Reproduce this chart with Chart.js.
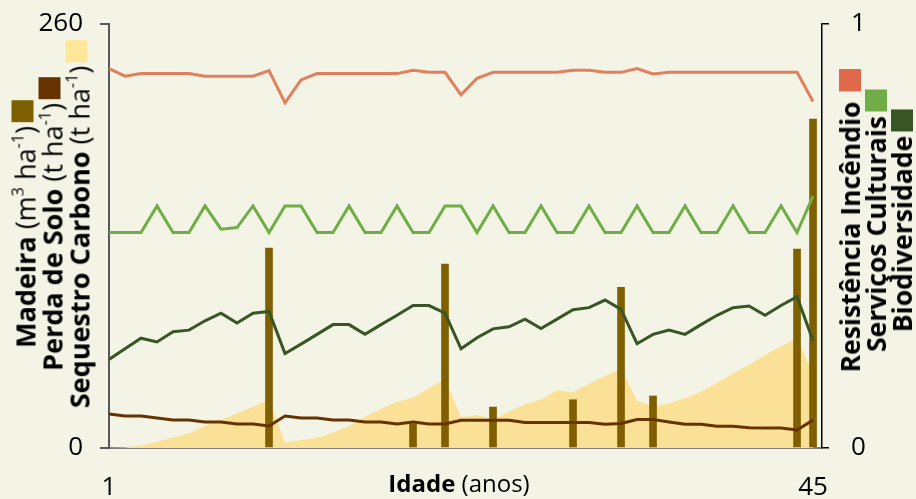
<!DOCTYPE html>
<html>
<head>
<meta charset="utf-8">
<script src="https://cdn.jsdelivr.net/npm/chart.js@4.4.1/dist/chart.umd.min.js"></script>
<style>
  body { margin: 0; background: #F4F4E6; font-family: 'Open Sans', sans-serif; }
  #wrap { position: relative; width: 916px; height: 499px; overflow: hidden; }
  canvas { position: absolute; left: 0; top: 0; }
  .vtitle { position: absolute; transform: translate(-50%, -50%) rotate(-90deg); white-space: nowrap;
            text-align: center; line-height: 26px; font-size: 27px; color: #000; }
  .vtitle sup { font-size: 0.6em; line-height: 0; vertical-align: 0.75em; }
  .sq { display: inline-block; width: 22px; height: 22px; margin-left: 4px; vertical-align: -1px; }
  #left .sq { vertical-align: 2px; }
  #xtitle { position: absolute; left: 459px; top: 466px; transform: translateX(-50%); font-size: 24px; white-space: nowrap; }
</style>
</head>
<body>
<div id="wrap">
  <canvas id="chart" width="916" height="499"></canvas>
  <div id="left" class="vtitle" style="left:52px; top:224px;">
    <div><b>Madeira</b> (m<sup>3</sup> ha<sup>-1</sup>)<span class="sq" style="background:#7F6000"></span></div>
    <div><b>Perda de Solo</b> (t ha<sup>-1</sup>)<span class="sq" style="background:#663300"></span></div>
    <div><b>Sequestro Carbono</b> (t ha<sup>-1</sup>)<span class="sq" style="background:#FFE699"></span></div>
  </div>
  <div class="vtitle" style="left:876px; top:221px; font-weight:bold; font-size:26.5px;">
    <div>Resistência Incêndio<span class="sq" style="background:#E06A4B; margin-left:10px"></span></div>
    <div>Serviços Culturais<span class="sq" style="background:#70AD47"></span></div>
    <div>Biodiversidade<span class="sq" style="background:#375623"></span></div>
  </div>
  <div id="xtitle"><b>Idade</b> (anos)</div>
</div>
<script>
// idade (anos)
const ages = [1, 2, 3, 4, 5, 6, 7, 8, 9, 10, 11, 12, 13, 14, 15, 16, 17, 18, 19, 20, 21, 22, 23,
  24, 25, 26, 27, 28, 29, 30, 31, 32, 33, 34, 35, 36, 37, 38, 39, 40, 41, 42, 43, 44, 45];

// eixo esquerdo (0 - 260)
const madeira = [null, null, null, null, null, null, null, null, null, null, 122.6, null, null, null, null,
  null, null, null, null, 14.7, null, 112.8, null, null, 25.1, null, null, null, null, 29.6,
  null, null, 98.6, null, 31.9, null, null, null, null, null, null, null, null, 122, 201.7];
const perdaSolo = [20.8, 19.6, 19.6, 18.4, 17.2, 17.2, 15.9, 15.9, 14.7, 14.7, 13.5, 19.6, 18.4, 18.4, 17.2,
  17.2, 15.9, 15.9, 14.7, 15.9, 14.7, 14.7, 17.0, 17.0, 17.0, 17.0, 15.7, 15.7, 15.7, 15.7,
  15.7, 14.5, 15.0, 17.4, 17.4, 16.0, 14.6, 14.6, 13.4, 13.3, 12.4, 12.3, 12.3, 11.0, 17.1];
const sequestro = [0, 0.3, 1.6, 3.9, 6.4, 9.0, 13.6, 17.2, 21.3, 25.3, 29.8, 3.3, 4.9, 6.3, 9.4,
  13.5, 19.2, 24.1, 28.4, 30.8, 36.6, 42.5, 18.8, 20.2, 17.6, 22.3, 26.8, 29.8, 35.6, 34.2,
  39.2, 44.1, 48.6, 28.9, 25.6, 27.4, 30.5, 34.5, 39.8, 45.8, 50.9, 57.0, 62.3, 67.8, 45.0];

// eixo direito (0 - 1)
const resistencia = [0.895, 0.877, 0.883, 0.883, 0.883, 0.883, 0.877, 0.877, 0.877, 0.877, 0.890, 0.814, 0.868, 0.883, 0.883,
  0.883, 0.883, 0.883, 0.883, 0.891, 0.886, 0.886, 0.833, 0.872, 0.886, 0.886, 0.886, 0.886, 0.886, 0.891,
  0.891, 0.886, 0.886, 0.895, 0.882, 0.886, 0.886, 0.886, 0.886, 0.886, 0.886, 0.886, 0.886, 0.886, 0.817];
const culturais = [0.508, 0.508, 0.508, 0.571, 0.508, 0.508, 0.571, 0.516, 0.520, 0.571, 0.508, 0.571, 0.571, 0.508, 0.508,
  0.571, 0.508, 0.508, 0.571, 0.508, 0.508, 0.571, 0.571, 0.508, 0.571, 0.508, 0.508, 0.571, 0.508, 0.508,
  0.571, 0.508, 0.508, 0.571, 0.508, 0.508, 0.571, 0.508, 0.508, 0.571, 0.508, 0.508, 0.571, 0.508, 0.594];
const biodiversidade = [0.209, 0.234, 0.259, 0.250, 0.274, 0.278, 0.300, 0.318, 0.295, 0.318, 0.322, 0.223, 0.245, 0.268, 0.291,
  0.291, 0.268, 0.291, 0.313, 0.336, 0.336, 0.318, 0.234, 0.260, 0.281, 0.286, 0.304, 0.282, 0.304, 0.326,
  0.331, 0.349, 0.327, 0.246, 0.268, 0.278, 0.268, 0.291, 0.313, 0.331, 0.335, 0.313, 0.336, 0.357, 0.253];

const leftTicks = [0, 260];
const rightTicks = [0, 1];
const xTicks = [1, 45];

// junta idade com valor, salta os vazios
function toPoints(values) {
  return values.map((v, i) => ({ x: ages[i], y: v })).filter(p => p.y !== null);
}

const tickFont = { family: "'Open Sans', sans-serif", size: 26 };

new Chart(document.getElementById('chart'), {
  data: {
    datasets: [
      { type: 'line', label: 'Sequestro Carbono', data: toPoints(sequestro), yAxisID: 'y',
        fill: 'origin', backgroundColor: '#FAE197', borderWidth: 0, pointRadius: 0, order: 3 },
      { type: 'bar', label: 'Madeira', data: toPoints(madeira), yAxisID: 'y',
        backgroundColor: '#7F6000', barThickness: 7, order: 2 },
      { type: 'line', label: 'Perda de Solo', data: toPoints(perdaSolo), yAxisID: 'y',
        borderColor: '#663300', borderWidth: 3, pointRadius: 0, order: 1 },
      { type: 'line', label: 'Resistência Incêndio', data: toPoints(resistencia), yAxisID: 'y1',
        borderColor: '#E1805C', borderWidth: 3, pointRadius: 0, order: 1 },
      { type: 'line', label: 'Serviços Culturais', data: toPoints(culturais), yAxisID: 'y1',
        borderColor: '#70AD47', borderWidth: 3, pointRadius: 0, order: 1 },
      { type: 'line', label: 'Biodiversidade', data: toPoints(biodiversidade), yAxisID: 'y1',
        borderColor: '#375623', borderWidth: 3, pointRadius: 0, order: 1 }
    ]
  },
  options: {
    responsive: false,
    animation: false,
    devicePixelRatio: 1,
    layout: { padding: { top: 24, left: 0, right: 0, bottom: 0 } },
    plugins: { legend: { display: false }, tooltip: { enabled: false } },
    scales: {
      x: {
        type: 'linear',
        min: 1,
        max: 45.56,
        offset: false,
        grid: { display: false, drawTicks: false, offset: false },
        border: { display: true, color: '#7F7F7F', width: 2 },
        afterBuildTicks: s => { s.ticks = xTicks.map(v => ({ value: v })); },
        afterFit: s => { s.height = 51; s.paddingLeft = 0; s.paddingRight = 0; },
        ticks: { color: '#000', font: tickFont, padding: 24, maxRotation: 0 }
      },
      y: {
        position: 'left',
        min: 0,
        max: 260,
        grid: { drawOnChartArea: false, color: '#595959', tickLength: 9, lineWidth: 2 },
        border: { color: '#595959', width: 2 },
        afterBuildTicks: s => { s.ticks = leftTicks.map(v => ({ value: v })); },
        afterFit: s => { s.width = 109; s.paddingTop = 0; s.paddingBottom = 0; },
        ticks: { color: '#000', font: tickFont, padding: 17 }
      },
      y1: {
        position: 'right',
        min: 0,
        max: 1,
        grid: { drawOnChartArea: false, color: '#000', tickLength: 7, lineWidth: 1.5 },
        border: { color: '#000', width: 1.5 },
        afterBuildTicks: s => { s.ticks = rightTicks.map(v => ({ value: v })); },
        afterFit: s => { s.width = 94; s.paddingTop = 0; s.paddingBottom = 0; },
        ticks: { color: '#000', font: tickFont, padding: 22 }
      }
    }
  }
});
</script>
</body>
</html>
